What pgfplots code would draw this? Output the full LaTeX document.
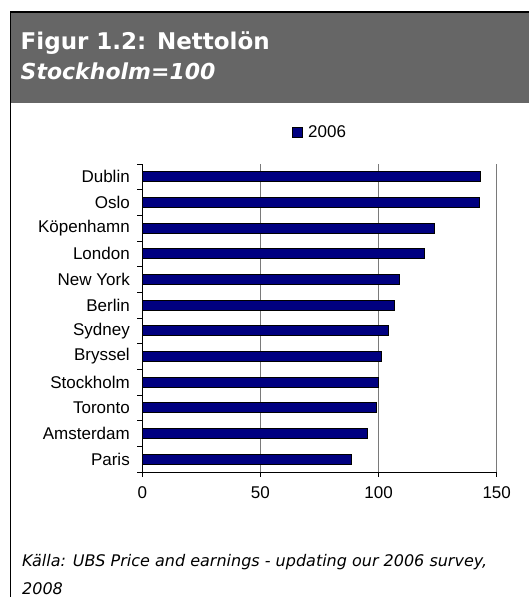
\documentclass[border=0pt]{standalone}
\usepackage{pgfplots}
\pgfplotsset{compat=1.18}
\usepackage{fontspec}
\setmainfont{Liberation Sans}
\newfontfamily\verdana{DejaVu Sans}
\definecolor{barnavy}{HTML}{000080}
\definecolor{headgray}{HTML}{666666}
\definecolor{gridgray}{HTML}{7A7A7A}
\begin{document}
\begin{tikzpicture}
\useasboundingbox (0pt,0pt) rectangle (529pt,597pt);
\clip (0pt,0pt) rectangle (529pt,597pt);
% header
\fill[headgray] (10.5pt,494pt) rectangle (530pt,585pt);
\draw[black,line width=1.2pt] (10.5pt,-2pt) -- (10.5pt,585pt) -- (530pt,585pt);
\node[anchor=base west,inner sep=0pt,text=white,font=\verdana\bfseries\fontsize{23}{27}\selectfont] at (20.5pt,547.7pt) {Figur 1.2: Nettolön};
\node[anchor=base west,inner sep=0pt,text=white,font=\verdana\bfseries\itshape\fontsize{22}{26}\selectfont] at (20.5pt,517.7pt) {Stockholm=100};
% footer
\node[anchor=base west,inner sep=0pt,font=\verdana\itshape\fontsize{16}{19}\selectfont] at (22pt,30pt) {Källa: UBS Price and earnings - updating our 2006 survey,};
\node[anchor=base west,inner sep=0pt,font=\verdana\itshape\fontsize{16}{19}\selectfont] at (22pt,2pt) {2008};
\begin{axis}[
  at={(142.3pt,125pt)}, anchor=south west,
  scale only axis, width=354.4pt, height=308pt,
  xmin=0, xmax=150, ymin=-0.5, ymax=11.5,
  axis lines*=left,
  axis line style={black, line width=0.8pt},
  xtick={0,50,100,150},
  ytick={0,...,11},
  yticklabels={Paris,Amsterdam,{Toronto\hspace{7pt}},Stockholm,Bryssel,{Sydney\hspace{7pt}},{Berlin\hspace{5pt}},New York,London,Köpenhamn,Oslo,Dublin},
  minor ytick={-0.5,0.5,...,11.5},
  tick align=outside,
  major tick length=5pt, minor tick length=5pt,
  major y tick style={draw=none},
  minor y tick style={black, line width=0.8pt},
  x tick style={black, line width=0.8pt},
  xmajorgrids, major grid style={gridgray, line width=0.9pt},
  tick label style={font=\fontsize{17}{20}\selectfont},
  /pgf/number format/assume math mode=true,
  yticklabel style={xshift=-4pt},
  xticklabel style={yshift=-6pt},
  legend style={at={(0.498,1.104)}, anchor=center, draw=none, fill=none, font=\fontsize{17}{20}\selectfont, inner sep=0pt, nodes={inner sep=0pt}},
  legend image code/.code={\draw[draw=black, fill=barnavy, line width=0.6pt] (0pt,-5pt) rectangle (10pt,5pt); \path (16pt,0pt);},
  clip=false,
]
\addplot[xbar, bar width=10pt, fill=barnavy, draw=black, line width=0.8pt] coordinates {
(88.5,0) (95.2,1) (99.2,2) (100,3) (101.2,4) (104,5) (106.6,6) (108.8,7) (119.6,8) (123.7,9) (142.6,10) (143.3,11)
};
\addlegendentry{2006}
\end{axis}
\end{tikzpicture}
\end{document}
